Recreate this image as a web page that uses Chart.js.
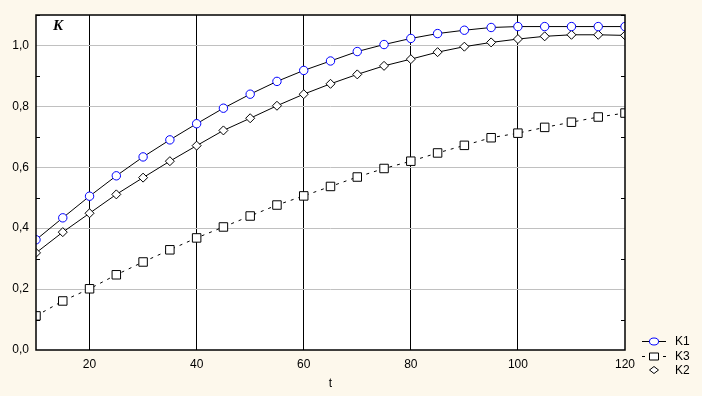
<!DOCTYPE html>
<html>
<head>
<meta charset="utf-8">
<script src="https://cdn.jsdelivr.net/npm/chart.js@4/dist/chart.umd.min.js"></script>
<style>
    body { margin: 0; background: #fdf8ec; }
    #wrap { width: 702px; height: 396px; position: relative; }
</style>
</head>
<body>
<div id="wrap"><canvas id="kChart"></canvas></div>
<script>
const tValues = [10, 15, 20, 25, 30, 35, 40, 45, 50, 55, 60, 65, 70, 75, 80, 85, 90, 95, 100, 105, 110, 115, 120];
const k1 = [0.362, 0.434, 0.505, 0.572, 0.634, 0.690, 0.743, 0.794, 0.840, 0.882, 0.918, 0.949, 0.980, 1.003, 1.023, 1.039, 1.050, 1.059, 1.062, 1.062, 1.062, 1.062, 1.062];
const k2 = [0.319, 0.387, 0.449, 0.511, 0.566, 0.620, 0.671, 0.721, 0.761, 0.802, 0.840, 0.874, 0.905, 0.933, 0.955, 0.978, 0.996, 1.010, 1.021, 1.030, 1.035, 1.035, 1.033];
const k3 = [0.112, 0.161, 0.201, 0.247, 0.289, 0.329, 0.368, 0.404, 0.440, 0.476, 0.506, 0.537, 0.568, 0.596, 0.620, 0.647, 0.672, 0.697, 0.712, 0.731, 0.748, 0.765, 0.778];
const xTicks = [20, 40, 60, 80, 100, 120];
const yTicks = [0, 0.2, 0.4, 0.6, 0.8, 1.0];

const FONT = { family: 'Liberation Sans, Arial, sans-serif', size: 12 };

const toPoints = arr => arr.map((v, i) => ({ x: tValues[i], y: v }));

// fond blanc de la zone, cadre, petites graduations, "K" et légende
const frame = {
    id: 'frame',
    beforeDraw(chart) {
        const { ctx, chartArea: a } = chart;
        ctx.save();
        ctx.fillStyle = '#fff';
        ctx.fillRect(a.left, a.top, a.right - a.left, a.bottom - a.top);
        ctx.restore();
    },
    afterDraw(chart) {
        const { ctx, chartArea: a } = chart;
        const ys = chart.scales.y;
        ctx.save();
        ctx.strokeStyle = '#000';
        ctx.lineWidth = 1.5;
        ctx.strokeRect(a.left, a.top, a.right - a.left, a.bottom - a.top);

        ctx.lineWidth = 1;
        for (let v = 0.1; v < 1.1; v += 0.2) {
            const y = Math.round(ys.getPixelForValue(v)) + 0.5;
            ctx.beginPath();
            ctx.moveTo(a.left, y); ctx.lineTo(a.left + 4, y);
            ctx.moveTo(a.right, y); ctx.lineTo(a.right - 4, y);
            ctx.stroke();
        }

        ctx.font = 'bold italic 15px "Liberation Serif", serif';
        ctx.fillStyle = '#000';
        ctx.textBaseline = 'middle';
        ctx.fillText('K', 53, 26);

        // légende
        ctx.font = '12px "Liberation Sans", Arial, sans-serif';
        const lx = 654;
        const rows = [
            { label: 'K1', y: 341, line: 'solid', marker: 'circle' },
            { label: 'K3', y: 356, line: 'dash', marker: 'rect' },
            { label: 'K2', y: 370, line: null, marker: 'diamond' }
        ];
        rows.forEach(r => {
            ctx.strokeStyle = '#000';
            ctx.beginPath();
            if (r.line === 'solid') {
                ctx.moveTo(642, r.y + 0.5); ctx.lineTo(666, r.y + 0.5);
            } else if (r.line === 'dash') {
                ctx.moveTo(642, r.y + 0.5); ctx.lineTo(645, r.y + 0.5);
                ctx.moveTo(663, r.y + 0.5); ctx.lineTo(666, r.y + 0.5);
            }
            ctx.stroke();
            ctx.fillStyle = '#fff';
            ctx.beginPath();
            if (r.marker === 'circle') {
                ctx.strokeStyle = '#0000ff';
                ctx.ellipse(lx, r.y + 0.5, 4.5, 3.5, 0, 0, Math.PI * 2);
            } else if (r.marker === 'rect') {
                ctx.strokeStyle = '#000';
                ctx.rect(lx - 4.5, r.y - 3, 9, 7);
            } else {
                ctx.strokeStyle = '#000';
                ctx.moveTo(lx, r.y - 3.5); ctx.lineTo(lx + 4.5, r.y);
                ctx.lineTo(lx, r.y + 3.5); ctx.lineTo(lx - 4.5, r.y);
                ctx.closePath();
            }
            ctx.fill();
            ctx.stroke();
            ctx.fillStyle = '#000';
            ctx.fillText(r.label, 675, r.y + 1);
        });
        ctx.restore();
    }
};

new Chart(document.getElementById('kChart'), {
    type: 'line',
    data: {
        datasets: [
            {
                label: 'K1',
                data: toPoints(k1),
                borderColor: '#000',
                borderWidth: 1,
                pointStyle: 'circle',
                pointRadius: 4.2,
                pointBorderColor: '#0000ff',
                pointBackgroundColor: '#fff',
                pointBorderWidth: 1,
                tension: 0
            },
            {
                label: 'K3',
                data: toPoints(k3),
                borderColor: '#000',
                borderWidth: 1,
                borderDash: [3, 5],
                pointStyle: 'rect',
                pointRadius: 6,
                pointBorderColor: '#000',
                pointBackgroundColor: '#fff',
                pointBorderWidth: 1,
                tension: 0
            },
            {
                label: 'K2',
                data: toPoints(k2),
                borderColor: '#000',
                borderWidth: 1,
                pointStyle: 'rectRot',
                pointRadius: 4.5,
                pointBorderColor: '#000',
                pointBackgroundColor: '#fff',
                pointBorderWidth: 1,
                tension: 0
            }
        ]
    },
    options: {
        responsive: true,
        maintainAspectRatio: false,
        animation: false,
        layout: { padding: { left: 0, top: 15, right: 77, bottom: 0 } },
        plugins: {
            legend: { display: false },
            tooltip: { enabled: false }
        },
        scales: {
            x: {
                type: 'linear',
                min: 10,
                max: 120,
                afterBuildTicks: s => { s.ticks = xTicks.map(v => ({ value: v })); },
                afterFit: s => { s.height = 46; },
                ticks: { color: '#000', font: FONT, padding: 7, maxRotation: 0 },
                grid: {
                    drawTicks: false,
                    color: ctx => ctx.tick && ctx.tick.value < 120 ? '#000' : 'rgba(0,0,0,0)',
                    lineWidth: 1
                },
                border: { display: false },
                title: { display: true, text: 't', color: '#000', font: FONT, padding: { top: 0, bottom: 5 } }
            },
            y: {
                min: 0,
                max: 1.1,
                afterBuildTicks: s => { s.ticks = yTicks.map(v => ({ value: v })); },
                afterFit: s => { s.width = 36; },
                ticks: {
                    color: '#000',
                    font: FONT,
                    padding: 7,
                    callback: v => v.toFixed(1).replace('.', ',')
                },
                grid: {
                    drawTicks: false,
                    color: ctx => ctx.tick && ctx.tick.value > 0 ? '#c0c0c0' : 'rgba(0,0,0,0)',
                    lineWidth: 1
                },
                border: { display: false }
            }
        }
    },
    plugins: [frame]
});
</script>
</body>
</html>
